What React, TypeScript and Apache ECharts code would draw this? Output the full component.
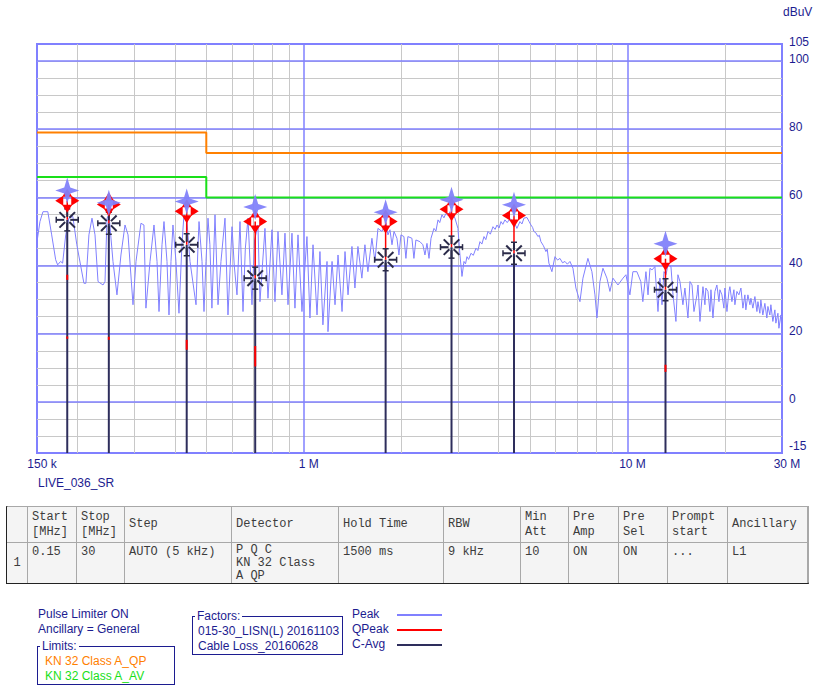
import React, { useEffect, useRef } from "react";
import * as echarts from "echarts";

// ---------- axis ticks ----------
const xTickValues = [0.15, 1, 10, 30];
const xTickLabels = ["150 k", "1 M", "10 M", "30 M"];
const yTickValues = [105, 100, 80, 60, 40, 20, 0, -15];
const xMinorGrid = [0.2, 0.3, 0.4, 0.5, 0.6, 0.7, 0.8, 0.9, 2, 3, 4, 5, 6, 7, 8, 9, 20];
const xMajorGrid = [1, 10];
const yMajorGrid = [0, 20, 40, 60, 80, 100];

// ---------- limit lines (MHz, dBuV) ----------
const qpLimit = [[0.15, 79], [0.5, 79], [0.5, 73], [30, 73]];
const avLimit = [[0.15, 66], [0.5, 66], [0.5, 60], [30, 60]];

// ---------- final measurement markers ----------
const markerFreq = [0.186, 0.25, 0.435, 0.708, 1.79, 2.86, 4.46, 13.1];
const markerPeak = [62.0, 58.4, 58.8, 57.2, 55.6, 59.3, 57.8, 46.4];
const markerQPeak = [59.0, 57.9, 55.9, 52.9, 52.9, 56.5, 54.7, 42.0];
const markerCAvg = [53.4, 52.4, 46.1, 36.3, 41.7, 45.4, 43.6, 32.9];

// short QPeak trace fragments visible on the sticks
const stubFreq = [0.186, 0.186, 0.25, 0.435, 0.708, 13.1];
const stubLow = [35.8, 18.5, 18.2, 15.3, 10.4, 8.8];
const stubHigh = [37.3, 19.2, 19.1, 18.2, 16.4, 10.9];

// ---------- peak trace (MHz, dBuV) ----------
const peakLow = [
  [0.15, 47.0], [0.1532, 52.9], [0.1565, 55.8], [0.162, 55.8], [0.1665, 49.0], [0.1713, 41.7], [0.1737, 40.2],
  [0.1774, 41.2], [0.18, 40.7], [0.184, 49.0], [0.1881, 53.9], [0.1935, 54.4], [0.1991, 46.1], [0.2094, 34.8],
  [0.2124, 34.8], [0.217, 49.0], [0.2218, 53.9], [0.2266, 49.0], [0.2315, 35.3], [0.2399, 34.3], [0.2433, 35.3],
  [0.2468, 53.9], [0.2503, 54.9], [0.2575, 41.2], [0.2649, 31.4], [0.2725, 43.1], [0.2805, 51.9], [0.2866, 49.0],
  [0.2969, 28.5], [0.3033, 41.2], [0.3142, 52.4], [0.3209, 51.9], [0.3255, 27.5], [0.3351, 41.2], [0.3447, 51.9],
  [0.3522, 41.2], [0.3572, 26.5], [0.3649, 46.1], [0.3701, 52.9], [0.3781, 41.2], [0.3835, 25.5], [0.389, 41.2],
  [0.3945, 51.9], [0.403, 41.2], [0.4117, 26.0], [0.4205, 46.1], [0.4266, 54.9], [0.4358, 52.9], [0.4453, 41.2],
  [0.4648, 28.5], [0.4715, 46.1], [0.4748, 52.9], [0.485, 41.2], [0.4919, 26.5], [0.4989, 41.2], [0.5061, 53.9],
  [0.513, 46.1], [0.5204, 27.5], [0.532, 54.9], [0.5435, 28.5],
];
const peakMid = [
  [0.555, 41.2], [0.5711, 53.9], [0.5834, 25.5], [0.6004, 51.4], [0.61, 40.0], [0.622, 31.4], [0.6354, 52.9],
  [0.6492, 26.5], [0.66, 45.0], [0.6726, 53.9], [0.692, 28.5], [0.705, 47.5], [0.722, 51.9], [0.7325, 29.4],
  [0.7589, 50.9], [0.7753, 30.4], [0.7977, 50.5], [0.8149, 29.4], [0.8326, 50.0], [0.8563, 31.4], [0.875, 49.5],
  [0.894, 28.5], [0.9196, 49.5], [0.9394, 27.5], [0.9598, 49.0], [0.9873, 26.5], [1.023, 48.5], [1.045, 24.6],
  [1.068, 46.1], [1.099, 25.5], [1.122, 44.1], [1.146, 22.6], [1.18, 41.2], [1.188, 20.6], [1.223, 41.2],
  [1.249, 28.5], [1.276, 43.1], [1.313, 26.5], [1.341, 44.1], [1.37, 31.4], [1.409, 45.6], [1.439, 33.4],
  [1.47, 45.6], [1.512, 36.3], [1.545, 46.1], [1.578, 38.2], [1.624, 48.0], [1.659, 41.2], [1.695, 50.9],
  [1.743, 50.0], [1.795, 52.4], [1.82, 49.0], [1.846, 50.5], [1.873, 46.1], [1.9, 50.0], [1.94, 48.0],
  [1.968, 43.1], [1.996, 49.0], [2.039, 48.5], [2.068, 42.1], [2.097, 48.5], [2.158, 48.0], [2.189, 42.1],
  [2.22, 47.5], [2.285, 47.0], [2.333, 46.1], [2.368, 43.1], [2.402, 46.5], [2.437, 42.1], [2.472, 48.0],
  [2.525, 50.9], [2.56, 50.1], [2.598, 53.4], [2.63, 52.6], [2.672, 54.9], [2.71, 54.0], [2.749, 55.3],
  [2.79, 54.7], [2.829, 55.8], [2.89, 54.9], [2.931, 53.9], [2.994, 50.9],
];
const peakHigh = [
  [3.037, 43.1], [3.081, 36.8], [3.125, 41.2], [3.16, 40.5], [3.192, 42.6], [3.23, 41.8], [3.284, 43.6],
  [3.34, 43.0], [3.403, 45.1], [3.45, 44.4], [3.501, 47.0], [3.55, 46.3], [3.603, 48.5], [3.65, 47.6],
  [3.707, 50.0], [3.77, 49.2], [3.841, 51.4], [3.9, 50.6], [3.952, 51.9], [4.01, 51.0], [4.066, 52.9],
  [4.12, 52.1], [4.182, 53.4], [4.25, 52.6], [4.333, 53.7], [4.458, 52.9], [4.554, 50.9], [4.653, 52.9],
  [4.72, 52.2], [4.787, 53.9], [4.89, 54.1], [4.96, 53.0], [5.031, 51.9], [5.09, 51.2], [5.139, 50.0],
  [5.21, 49.6], [5.287, 48.5], [5.34, 48.9], [5.401, 47.0], [5.5, 45.8], [5.596, 44.1], [5.65, 44.8],
  [5.717, 40.7], [5.841, 38.2], [5.968, 42.6], [6.08, 41.6], [6.184, 42.1], [6.3, 40.8], [6.408, 41.2],
  [6.52, 40.4], [6.64, 41.2], [6.783, 39.2], [6.928, 33.4], [7.129, 29.4], [7.283, 36.3], [7.545, 42.1],
  [7.763, 38.2], [7.932, 31.4], [8.046, 24.6], [8.219, 35.3], [8.396, 39.2], [8.637, 36.3], [8.824, 32.4],
  [9.013, 36.3], [9.344, 34.3], [9.685, 36.3], [9.887, 37.3], [10.17, 31.4], [10.39, 38.2], [10.69, 38.2],
  [10.99, 35.3], [11.15, 29.4], [11.4, 38.2], [11.57, 31.4], [11.73, 39.2], [11.9, 38.7], [12.15, 39.7],
  [12.42, 26.5], [12.59, 36.3], [12.78, 28.5], [12.96, 38.2], [13.15, 37.3], [13.33, 40.2], [13.62, 39.7],
  [13.82, 31.4], [14.11, 23.6], [14.31, 37.3], [14.52, 35.3], [14.83, 28.5], [15.04, 33.4], [15.37, 24.6],
  [15.59, 35.3], [15.82, 34.3], [16.04, 26.5], [16.39, 31.4], [16.51, 34.3], [16.74, 23.6],
];
const peakTail = [
  [17.1, 33.8], [17.34, 28.5], [17.46, 33.4], [17.72, 32.4], [17.97, 26.5], [18.1, 32.9], [18.36, 24.6],
  [18.62, 32.4], [18.88, 34.3], [19.16, 29.4], [19.29, 32.9], [19.57, 31.4], [19.85, 27.5], [19.99, 33.4],
  [20.28, 26.5], [20.57, 32.4], [20.71, 33.8], [21.01, 29.4], [21.31, 32.9], [21.46, 28.5], [21.77, 32.4],
  [22.08, 31.4], [22.4, 33.4], [22.72, 27.5], [23.04, 31.4], [23.2, 27.0], [23.54, 31.4], [23.88, 28.5],
  [24.05, 30.4], [24.39, 27.5], [24.74, 30.9], [25.1, 26.5], [25.28, 29.4], [25.63, 26.0], [25.81, 29.9],
  [26.18, 25.5], [26.56, 28.9], [26.94, 24.6], [27.14, 28.0], [27.52, 25.5], [27.72, 28.5], [28.11, 23.6],
  [28.52, 27.0], [28.72, 23.1], [29.14, 26.0], [29.35, 21.6], [29.77, 25.5], [30, 21.1],
];

// ---------- table & legend texts ----------
const colWidths = [21, 49, 48, 107, 107, 105, 77, 48, 50, 49, 60, 80];
const tableHeader = ["", "Start\n[MHz]", "Stop\n[MHz]", "Step", "Detector", "Hold Time", "RBW", "Min\nAtt", "Pre\nAmp", "Pre\nSel", "Prompt\nstart", "Ancillary"];
const tableRow = ["1", "0.15", "30", "AUTO (5 kHz)", "P Q C\nKN 32 Class\nA QP", "1500 ms", "9 kHz", "10", "ON", "ON", "...", "L1"];
const infoLines = ["Pulse Limiter ON", "Ancillary = General"];
const limitNames = ["KN 32 Class A_QP", "KN 32 Class A_AV"];
const factorNames = ["015-30_LISN(L) 20161103", "Cable Loss_20160628"];
const traceNames = ["Peak", "QPeak", "C-Avg"];

const NAVY = "#1c1c90";
const PEAK_C = "#8080ff";
const QP_C = "#ff0000";
const AV_C = "#2e2e5c";
const traceColors = [PEAK_C, QP_C, AV_C];
const limitColors = ["#ff8000", "#19e019"];

function renderMarker(params: any, api: any) {
  const f = api.value(0);
  const pk = api.coord([f, api.value(1)]);
  const qp = api.coord([f, api.value(2)]);
  const av = api.coord([f, api.value(3)]);
  const bot = api.coord([f, -15]);
  const x = av[0];
  const ch: any[] = [];
  ch.push({ type: "line", shape: { x1: x, y1: bot[1], x2: x, y2: av[1] }, style: { stroke: AV_C, lineWidth: 2 } });
  ch.push({ type: "line", shape: { x1: x, y1: av[1], x2: x, y2: qp[1] }, style: { stroke: QP_C, lineWidth: 1.5 } });
  // C-Avg asterisk
  for (let k = 0; k < 8; k++) {
    const a = (k * Math.PI) / 4;
    const c = Math.cos(a), s = Math.sin(a);
    ch.push({
      type: "line",
      shape: { x1: av[0] + 3 * c, y1: av[1] + 3 * s, x2: av[0] + 11 * c, y2: av[1] + 11 * s },
      style: { stroke: "#2a2a48", lineWidth: 2 },
    });
  }
  const caps = [[11, 0], [-11, 0], [0, 11], [0, -11]];
  caps.forEach(([dx, dy]) => {
    const hx = dx === 0 ? 3 : 0, hy = dy === 0 ? 3 : 0;
    ch.push({
      type: "line",
      shape: { x1: av[0] + dx - hx, y1: av[1] + dy - hy, x2: av[0] + dx + hx, y2: av[1] + dy + hy },
      style: { stroke: "#2a2a48", lineWidth: 1.5 },
    });
  });
  // QPeak arrows
  const q0 = qp[0], q1 = qp[1];
  const tris = [
    [[q0 - 12, q1], [q0 - 4, q1 - 5], [q0 - 4, q1 + 5]],
    [[q0 + 12, q1], [q0 + 4, q1 - 5], [q0 + 4, q1 + 5]],
    [[q0, q1 + 12], [q0 - 5, q1 + 4], [q0 + 5, q1 + 4]],
    [[q0, q1 - 12], [q0 - 5, q1 - 4], [q0 + 5, q1 - 4]],
  ];
  tris.forEach((pts) => ch.push({ type: "polygon", shape: { points: pts }, style: { fill: QP_C } }));
  // Peak star
  const p0 = pk[0], p1 = pk[1];
  const star = [
    [p0, p1 - 13], [p0 + 3, p1 - 3], [p0 + 12, p1], [p0 + 3, p1 + 3],
    [p0, p1 + 13], [p0 - 3, p1 + 3], [p0 - 12, p1], [p0 - 3, p1 - 3],
  ];
  ch.push({ type: "polygon", shape: { points: star }, style: { fill: "#8282fa", opacity: 0.95 } });
  return { type: "group", children: ch };
}

function renderStub(params: any, api: any) {
  const f = api.value(0);
  const a = api.coord([f, api.value(1)]);
  const b = api.coord([f, api.value(2)]);
  return { type: "line", shape: { x1: a[0], y1: a[1], x2: b[0], y2: b[1] }, style: { stroke: QP_C, lineWidth: 2 } };
}

const labelFont = "Liberation Sans, Arial, sans-serif";

function buildOption() {
  const gridLines: any[] = [
    ...xMinorGrid.map((v) => ({ xAxis: v, lineStyle: { color: "#c8c8c8", width: 1, type: "solid" } })),
    ...xMajorGrid.map((v) => ({ xAxis: v, lineStyle: { color: "#8080ff", width: 1.5, type: "solid" } })),
    ...yMajorGrid.map((v) => ({ yAxis: v, lineStyle: { color: "#8080ff", width: 1.5, type: "solid" } })),
  ];
  return {
    animation: false,
    grid: { left: 37, right: 31, top: 44, bottom: 47, show: true, borderColor: "#8080ff", borderWidth: 2, backgroundColor: "transparent" },
    xAxis: {
      type: "log",
      logBase: 10,
      min: 0.15,
      max: 30,
      axisLine: { show: false },
      axisTick: { show: false },
      splitLine: { show: false },
      axisLabel: {
        show: true,
        showMinLabel: true,
        showMaxLabel: true,
        color: NAVY,
        fontFamily: labelFont,
        fontSize: 12,
        margin: 5,
        padding: [0, 0, 0, 10],
        formatter: (v: number) => {
          for (let i = 0; i < xTickValues.length; i++) {
            if (Math.abs(v - xTickValues[i]) / xTickValues[i] < 1e-4) return xTickLabels[i];
          }
          return "";
        },
      },
    },
    yAxis: {
      type: "value",
      position: "right",
      min: -15,
      max: 105,
      interval: 5,
      axisLine: { show: false },
      axisTick: { show: false },
      splitLine: { show: true, showMinLine: false, showMaxLine: false, lineStyle: { color: "#c8c8c8", width: 1 } },
      axisLabel: {
        interval: 0,
        color: NAVY,
        fontFamily: labelFont,
        fontSize: 12,
        margin: 7,
        padding: [0, 0, 5, 0],
        formatter: (v: number) => {
          const r = Math.round(v);
          if (yTickValues.indexOf(r) < 0) return "";
          return r === -15 ? "{lo|-15}" : String(r);
        },
        rich: {
          lo: { color: NAVY, fontFamily: labelFont, fontSize: 12, padding: [0, 0, 9, 0] },
        },
      },
    },
    graphic: [
      { type: "text", left: 783, top: 6, style: { text: "dBuV", fill: NAVY, font: "12px 'Liberation Sans', Arial, sans-serif" } },
      { type: "text", left: 38, top: 477, style: { text: "LIVE_036_SR", fill: NAVY, font: "12px 'Liberation Sans', Arial, sans-serif" } },
    ],
    series: [
      {
        type: "line",
        name: "grid",
        data: [[1, 0]],
        symbol: "none",
        lineStyle: { opacity: 0 },
        silent: true,
        z: 1,
        markLine: { silent: true, z: 1, symbol: ["none", "none"], label: { show: false }, lineStyle: { type: "solid" }, data: gridLines },
      },
      { type: "line", name: "KN 32 Class A_AV", data: avLimit, symbol: "none", lineStyle: { color: limitColors[1], width: 2 }, z: 3, silent: true },
      { type: "line", name: "KN 32 Class A_QP", data: qpLimit, symbol: "none", lineStyle: { color: limitColors[0], width: 2 }, z: 3, silent: true },
      {
        type: "line",
        name: "Peak",
        data: [...peakLow, ...peakMid, ...peakHigh, ...peakTail],
        symbol: "none",
        lineStyle: { color: PEAK_C, width: 1 },
        z: 4,
        silent: true,
      },
      {
        type: "custom",
        name: "markers",
        data: markerFreq.map((f, i) => [f, markerPeak[i], markerQPeak[i], markerCAvg[i]]),
        encode: { x: 0, y: [1, 2, 3] },
        renderItem: renderMarker,
        z: 6,
        silent: true,
      },
      {
        type: "custom",
        name: "qpStubs",
        data: stubFreq.map((f, i) => [f, stubLow[i], stubHigh[i]]),
        encode: { x: 0, y: [1, 2] },
        renderItem: renderStub,
        z: 7,
        silent: true,
      },
    ],
  };
}

const sansFont = "'Liberation Sans', Arial, sans-serif";

export default function App() {
  const ref = useRef<HTMLDivElement>(null);
  useEffect(() => {
    document.body.style.margin = "0";
    const chart = echarts.init(ref.current as HTMLDivElement, null, { renderer: "svg" });
    chart.setOption(buildOption() as any);
    return () => chart.dispose();
  }, []);

  const lefts: number[] = [];
  let acc = 7;
  colWidths.forEach((w) => { lefts.push(acc); acc += w; });

  const cellBase: React.CSSProperties = {
    position: "absolute",
    boxSizing: "border-box",
    borderRight: "1px solid #a8a8a8",
    borderBottom: "1px solid #a8a8a8",
    background: "#f4f4f4",
    fontFamily: "'Liberation Mono', 'DejaVu Sans Mono', monospace",
    fontSize: 12,
    color: "#3c3c3c",
    whiteSpace: "pre",
    overflow: "hidden",
    padding: "0 4px",
    lineHeight: "15px",
  };

  return (
    <div style={{ position: "relative", width: 813, height: 686, background: "#fff", overflow: "hidden", fontFamily: sansFont }}>
      <div ref={ref} style={{ position: "absolute", left: 0, top: 0, width: 813, height: 500 }} />

      {/* settings table */}
      <div style={{ position: "absolute", left: 6, top: 506, width: 803, height: 78, boxSizing: "border-box", borderLeft: "2px solid #222", borderBottom: "2px solid #222", borderTop: "1px solid #a8a8a8", borderRight: "1px solid #a8a8a8" }} />
      {tableHeader.map((t, i) => (
        <div key={"h" + i} style={{ ...cellBase, left: lefts[i], top: 507, width: colWidths[i], height: 36, display: "flex", alignItems: "center" }}>
          {t}
        </div>
      ))}
      {tableRow.map((t, i) => (
        <div
          key={"r" + i}
          style={{
            ...cellBase,
            left: lefts[i],
            top: 543,
            width: colWidths[i],
            height: 40,
            lineHeight: i === 4 ? "13px" : "16px",
            paddingTop: i === 0 ? 12 : 1,
            textAlign: i === 0 ? "center" : "left",
            borderBottom: "none",
          }}
        >
          {t}
        </div>
      ))}

      {/* info lines */}
      {infoLines.map((t, i) => (
        <div key={"i" + i} style={{ position: "absolute", left: 38, top: 607 + i * 15, fontSize: 12, lineHeight: "15px", color: NAVY, whiteSpace: "nowrap" }}>
          {t}
        </div>
      ))}

      {/* limits box */}
      <div style={{ position: "absolute", left: 37, top: 646, width: 138, height: 39, boxSizing: "border-box", border: `1px solid ${NAVY}` }} />
      <div style={{ position: "absolute", left: 40, top: 639, fontSize: 12, lineHeight: "14px", color: NAVY, background: "#fff", padding: "0 2px" }}>Limits:</div>
      {limitNames.map((t, i) => (
        <div key={"l" + i} style={{ position: "absolute", left: 45, top: 654 + i * 15, fontSize: 12, lineHeight: "15px", color: limitColors[i], whiteSpace: "nowrap" }}>
          {t}
        </div>
      ))}

      {/* factors box */}
      <div style={{ position: "absolute", left: 192, top: 616, width: 151, height: 39, boxSizing: "border-box", border: `1px solid ${NAVY}` }} />
      <div style={{ position: "absolute", left: 195, top: 609, fontSize: 12, lineHeight: "14px", color: NAVY, background: "#fff", padding: "0 2px" }}>Factors:</div>
      {factorNames.map((t, i) => (
        <div key={"f" + i} style={{ position: "absolute", left: 198, top: 624 + i * 15, fontSize: 12, lineHeight: "15px", color: NAVY, whiteSpace: "nowrap" }}>
          {t}
        </div>
      ))}

      {/* trace legend */}
      {traceNames.map((t, i) => (
        <React.Fragment key={"t" + i}>
          <div style={{ position: "absolute", left: 352, top: 607 + i * 15, fontSize: 12, lineHeight: "15px", color: NAVY, whiteSpace: "nowrap" }}>{t}</div>
          <div style={{ position: "absolute", left: 397, top: 614 + i * 15, width: 45, height: 2, background: traceColors[i] }} />
        </React.Fragment>
      ))}
    </div>
  );
}
